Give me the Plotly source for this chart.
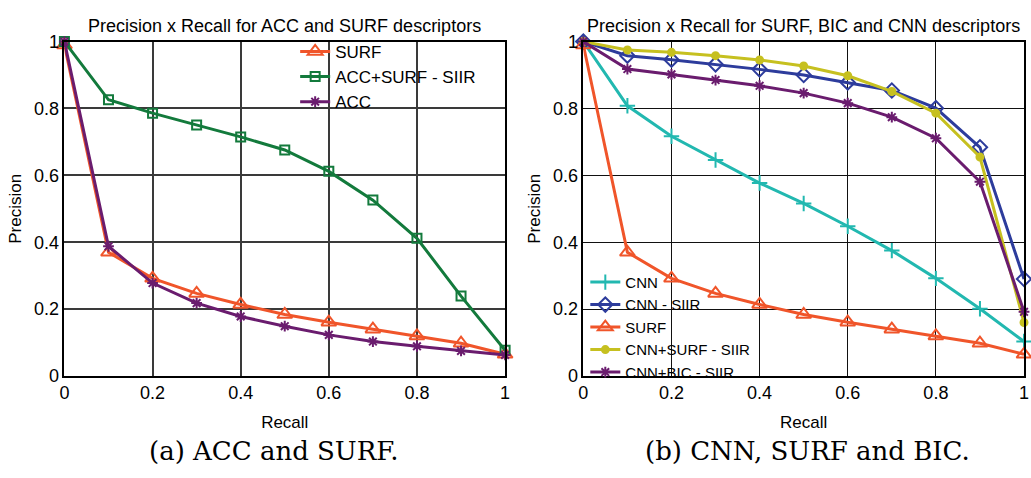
import plotly.graph_objects as go

recall = [0, 0.1, 0.2, 0.3, 0.4, 0.5, 0.6, 0.7, 0.8, 0.9, 1.0]

# Left panel
surf = [0.99, 0.37, 0.292, 0.247, 0.214, 0.184, 0.161, 0.14, 0.12, 0.098, 0.065]
acc_surf_siir = [1.0, 0.826, 0.786, 0.751, 0.715, 0.676, 0.612, 0.526, 0.412, 0.239, 0.077]
acc = [1.0, 0.388, 0.278, 0.218, 0.178, 0.149, 0.123, 0.103, 0.089, 0.075, 0.063]

# Right panel
cnn = [1.0, 0.808, 0.717, 0.646, 0.577, 0.516, 0.448, 0.375, 0.292, 0.201, 0.103]
cnn_siir = [1.0, 0.958, 0.946, 0.932, 0.917, 0.9, 0.878, 0.854, 0.801, 0.684, 0.29]
cnn_surf_siir = [1.0, 0.975, 0.968, 0.958, 0.945, 0.927, 0.898, 0.851, 0.786, 0.655, 0.16]
cnn_bic_siir = [1.0, 0.918, 0.902, 0.885, 0.868, 0.846, 0.816, 0.774, 0.711, 0.581, 0.192]

ticks = [0, 0.2, 0.4, 0.6, 0.8, 1]
tick_labels = ["0", "0.2", "0.4", "0.6", "0.8", "1"]

C_SURF = "#f0552a"
C_GREEN = "#137a3c"
C_PURPLE = "#6a1c6e"
C_TEAL = "#22b8b0"
C_BLUE = "#2d3c9c"
C_YELLOW = "#c6c020"

SANS = "Liberation Sans, Arial, sans-serif"
SERIF = "DejaVu Serif, Liberation Serif, serif"

fig = go.Figure()

def add(x, y, name, color, symbol, size, xa, ya, legend):
    fig.add_trace(go.Scatter(
        x=x, y=y, name=name, mode="lines+markers",
        line=dict(color=color, width=3),
        marker=dict(symbol=symbol, size=size, color=color,
                    line=dict(color=color, width=2)),
        xaxis=xa, yaxis=ya, legend=legend, cliponaxis=False,
    ))

add(recall, surf, "SURF", C_SURF, "triangle-up-open", 13, "x", "y", "legend")
add(recall, acc_surf_siir, "ACC+SURF - SIIR", C_GREEN, "square-open", 9, "x", "y", "legend")
add(recall, acc, "ACC", C_PURPLE, "asterisk-open", 9, "x", "y", "legend")

add(recall, cnn, "CNN", C_TEAL, "cross-thin-open", 11, "x2", "y2", "legend2")
add(recall, cnn_siir, "CNN - SIIR", C_BLUE, "diamond-open", 11, "x2", "y2", "legend2")
add(recall, surf, "SURF", C_SURF, "triangle-up-open", 13, "x2", "y2", "legend2")
add(recall, cnn_surf_siir, "CNN+SURF - SIIR", C_YELLOW, "circle", 7, "x2", "y2", "legend2")
add(recall, cnn_bic_siir, "CNN+BIC - SIIR", C_PURPLE, "asterisk-open", 9, "x2", "y2", "legend2")

W, H = 1031, 478
ydom = [(H - 382) / H, (H - 33) / H]
xdom1 = [60 / W, 505 / W]
xdom2 = [584 / W, 1029 / W]

axis_common = dict(
    range=[0, 1], tickvals=ticks, ticktext=tick_labels,
    showline=True, linecolor="black", linewidth=1.5, mirror=True,
    showgrid=True, zeroline=False, ticks="",
    tickfont=dict(family=SANS, size=18, color="black"),
)

title_font = dict(family=SANS, size=17, color="black")

fig.update_layout(
    width=W, height=H,
    margin=dict(l=0, r=0, t=0, b=0),
    paper_bgcolor="white", plot_bgcolor="white",
    showlegend=True,
    xaxis=dict(domain=xdom1, anchor="y", gridcolor="#3a3a3a", gridwidth=1.5,
               title=dict(text="Recall", font=title_font, standoff=14),
               **axis_common),
    yaxis=dict(domain=ydom, anchor="x", gridcolor="#3a3a3a", gridwidth=1.5,
               title=dict(text="Precision", font=title_font, standoff=8),
               **axis_common),
    xaxis2=dict(domain=xdom2, anchor="y2", gridcolor="#111111", gridwidth=1.2,
                title=dict(text="Recall", font=title_font, standoff=14),
                **axis_common),
    yaxis2=dict(domain=ydom, anchor="x2", gridcolor="#111111", gridwidth=1.2,
                title=dict(text="Precision", font=title_font, standoff=8),
                **axis_common),
    legend=dict(x=293 / W, y=(H - 25) / H, xanchor="left", yanchor="top",
                bgcolor="rgba(0,0,0,0)", borderwidth=0,
                font=dict(family=SANS, size=17, color="black"),
                itemwidth=30, tracegroupgap=0),
    legend2=dict(x=586 / W, y=(H - 267) / H, xanchor="left", yanchor="top",
                 bgcolor="rgba(0,0,0,0)", borderwidth=0,
                 font=dict(family=SANS, size=15, color="black"),
                 itemwidth=30, tracegroupgap=0),
    annotations=[
        dict(text="Precision x Recall for ACC and SURF descriptors", x=(60 + 505) / 2 / W, y=(H - 17) / H,
             xref="paper", yref="paper", showarrow=False, xanchor="center", yanchor="middle",
             font=dict(family=SANS, size=18, color="black")),
        dict(text="Precision x Recall for SURF, BIC and CNN descriptors", x=(584 + 1029) / 2 / W, y=(H - 17) / H,
             xref="paper", yref="paper", showarrow=False, xanchor="center", yanchor="middle",
             font=dict(family=SANS, size=18, color="black")),
        dict(text="(a) ACC and SURF.", x=272 / W, y=(H - 460) / H,
             xref="paper", yref="paper", showarrow=False, xanchor="center", yanchor="middle",
             font=dict(family=SERIF, size=26, color="black")),
        dict(text="(b) CNN, SURF and BIC.", x=810 / W, y=(H - 460) / H,
             xref="paper", yref="paper", showarrow=False, xanchor="center", yanchor="middle",
             font=dict(family=SERIF, size=26, color="black")),
    ],
)

fig.write_html("out.html")
